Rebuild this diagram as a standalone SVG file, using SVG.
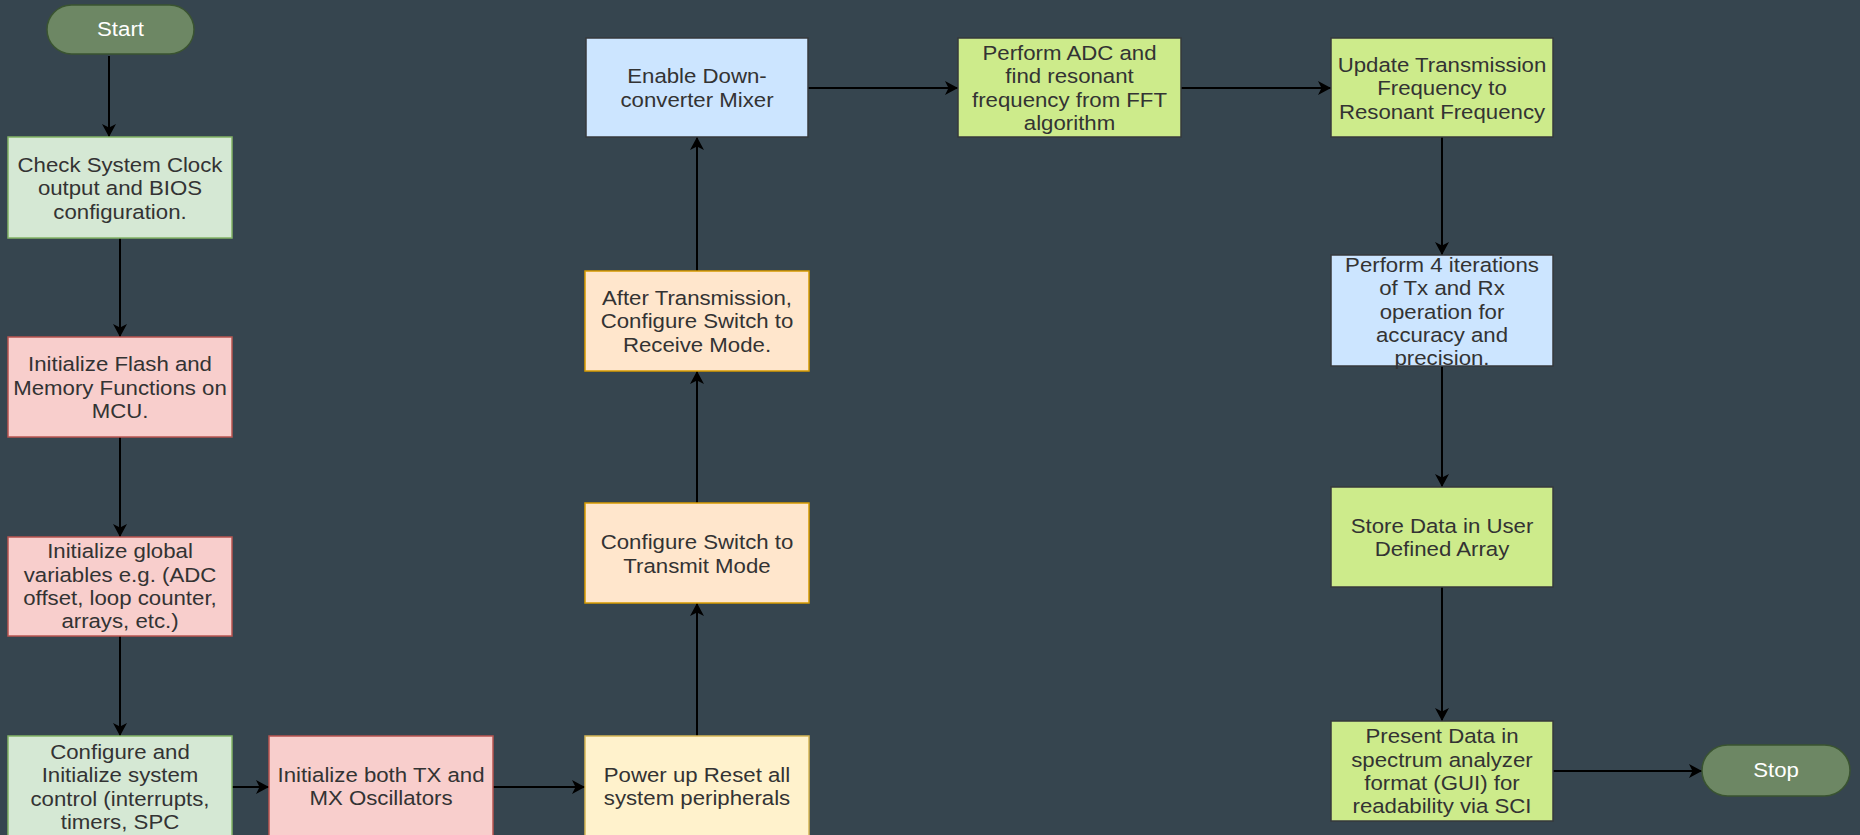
<svg xmlns="http://www.w3.org/2000/svg" width="1860" height="835" viewBox="0 0 1860 835">
<style>
.t{font-family:"Liberation Sans",Arial,sans-serif;font-size:19.5px;fill:#333333;text-anchor:middle}
.tw{font-family:"Liberation Sans",Arial,sans-serif;font-size:19.5px;fill:#ffffff;text-anchor:middle}
.term{fill:#6d8764;stroke:#3a5431;stroke-width:1.5}
.green{fill:#d5e8d4;stroke:#82b366;stroke-width:1.5}
.red{fill:#f8cecc;stroke:#b85450;stroke-width:1.5}
.orange{fill:#ffe6cc;stroke:#d79b00;stroke-width:1.5}
.yellow{fill:#fff2cc;stroke:#d6b656;stroke-width:1.5}
.blue{fill:#cce5ff;stroke:#36393d;stroke-width:1.5}
.lime{fill:#cdeb8b;stroke:#36393d;stroke-width:1.5}
.edge{fill:none;stroke:#000;stroke-width:2;marker-end:url(#arr)}
</style>
<defs>
<marker id="arr" markerUnits="userSpaceOnUse" markerWidth="14" markerHeight="14" refX="13" refY="7" orient="auto">
<path d="M0,0 L13,7 L0,14 L3.5,7 z" fill="#000"/>
</marker>
</defs>
<rect x="0" y="0" width="1860" height="835" fill="#36454f"/>

<g id="connectors">
<path class="edge" d="M109,56 L109,137"/>
<path class="edge" d="M120,238 L120,337"/>
<path class="edge" d="M120,437 L120,537"/>
<path class="edge" d="M120,636 L120,736"/>
<path class="edge" d="M232,787 L269,787"/>
<path class="edge" d="M493,787 L585,787"/>
<path class="edge" d="M697,736 L697,603"/>
<path class="edge" d="M697,503 L697,371"/>
<path class="edge" d="M697,271 L697,137"/>
<path class="edge" d="M808,88 L958,88"/>
<path class="edge" d="M1181,88 L1331,88"/>
<path class="edge" d="M1442,137 L1442,255"/>
<path class="edge" d="M1442,366 L1442,487"/>
<path class="edge" d="M1442,587 L1442,721"/>
<path class="edge" d="M1553,771 L1702,771"/>
</g>

<g id="start">
<rect class="term" x="47" y="5" width="147" height="49" rx="24.5" ry="24.5"/>
<text class="tw" transform="translate(120.5 0) scale(1.14 1)" x="0" y="36.5">Start</text>
</g>

<g id="check-clock">
<rect class="green" x="8" y="137" width="224" height="101"/>
<text class="t" transform="translate(120 0) scale(1.14 1)"><tspan x="0" y="172">Check System Clock</tspan><tspan x="0" y="195.3">output and BIOS</tspan><tspan x="0" y="218.6">configuration.</tspan></text>
</g>

<g id="init-flash">
<rect class="red" x="8" y="337" width="224" height="100"/>
<text class="t" transform="translate(120 0) scale(1.14 1)"><tspan x="0" y="371.5">Initialize Flash and</tspan><tspan x="0" y="394.8">Memory Functions on</tspan><tspan x="0" y="418.1">MCU.</tspan></text>
</g>

<g id="init-globals">
<rect class="red" x="8" y="537" width="224" height="99"/>
<text class="t" transform="translate(120 0) scale(1.14 1)"><tspan x="0" y="558.5">Initialize global</tspan><tspan x="0" y="581.8">variables e.g. (ADC</tspan><tspan x="0" y="605.1">offset, loop counter,</tspan><tspan x="0" y="628.4">arrays, etc.)</tspan></text>
</g>

<g id="config-sysctl">
<rect class="green" x="8" y="736" width="224" height="100"/>
<text class="t" transform="translate(120 0) scale(1.14 1)"><tspan x="0" y="759">Configure and</tspan><tspan x="0" y="782.3">Initialize system</tspan><tspan x="0" y="805.6">control (interrupts,</tspan><tspan x="0" y="828.9">timers, SPC</tspan></text>
</g>

<g id="init-osc">
<rect class="red" x="269" y="736" width="224" height="100"/>
<text class="t" transform="translate(381 0) scale(1.14 1)"><tspan x="0" y="782">Initialize both TX and</tspan><tspan x="0" y="805.3">MX Oscillators</tspan></text>
</g>

<g id="power-up">
<rect class="yellow" x="585" y="736" width="224" height="100"/>
<text class="t" transform="translate(697 0) scale(1.14 1)"><tspan x="0" y="782">Power up Reset all</tspan><tspan x="0" y="805.3">system peripherals</tspan></text>
</g>

<g id="switch-tx">
<rect class="orange" x="585" y="503" width="224" height="100"/>
<text class="t" transform="translate(697 0) scale(1.14 1)"><tspan x="0" y="549.5">Configure Switch to</tspan><tspan x="0" y="572.8">Transmit Mode</tspan></text>
</g>

<g id="switch-rx">
<rect class="orange" x="585" y="271" width="224" height="100"/>
<text class="t" transform="translate(697 0) scale(1.14 1)"><tspan x="0" y="305">After Transmission,</tspan><tspan x="0" y="328.3">Configure Switch to</tspan><tspan x="0" y="351.6">Receive Mode.</tspan></text>
</g>

<g id="enable-mixer">
<rect class="blue" x="586" y="38" width="222" height="99"/>
<text class="t" transform="translate(697 0) scale(1.14 1)"><tspan x="0" y="83.5">Enable Down-</tspan><tspan x="0" y="106.8">converter Mixer</tspan></text>
</g>

<g id="adc-fft">
<rect class="lime" x="958" y="38" width="223" height="99"/>
<text class="t" transform="translate(1069.5 0) scale(1.14 1)"><tspan x="0" y="60">Perform ADC and</tspan><tspan x="0" y="83.3">find resonant</tspan><tspan x="0" y="106.6">frequency from FFT</tspan><tspan x="0" y="129.9">algorithm</tspan></text>
</g>

<g id="update-freq">
<rect class="lime" x="1331" y="38" width="222" height="99"/>
<text class="t" transform="translate(1442 0) scale(1.14 1)"><tspan x="0" y="72">Update Transmission</tspan><tspan x="0" y="95.3">Frequency to</tspan><tspan x="0" y="118.6">Resonant Frequency</tspan></text>
</g>

<g id="iterations">
<rect class="blue" x="1331" y="255" width="222" height="111"/>
<text class="t" transform="translate(1442 0) scale(1.14 1)"><tspan x="0" y="272">Perform 4 iterations</tspan><tspan x="0" y="295.3">of Tx and Rx</tspan><tspan x="0" y="318.6">operation for</tspan><tspan x="0" y="341.9">accuracy and</tspan><tspan x="0" y="365.2">precision.</tspan></text>
</g>

<g id="store-data">
<rect class="lime" x="1331" y="487" width="222" height="100"/>
<text class="t" transform="translate(1442 0) scale(1.14 1)"><tspan x="0" y="533">Store Data in User</tspan><tspan x="0" y="556.3">Defined Array</tspan></text>
</g>

<g id="present-data">
<rect class="lime" x="1331" y="721" width="222" height="100"/>
<text class="t" transform="translate(1442 0) scale(1.14 1)"><tspan x="0" y="743.5">Present Data in</tspan><tspan x="0" y="766.8">spectrum analyzer</tspan><tspan x="0" y="790.1">format (GUI) for</tspan><tspan x="0" y="813.4">readability via SCI</tspan></text>
</g>

<g id="stop">
<rect class="term" x="1702" y="745" width="148" height="51" rx="25.5" ry="25.5"/>
<text class="tw" transform="translate(1776 0) scale(1.14 1)" x="0" y="777.5">Stop</text>
</g>
</svg>
